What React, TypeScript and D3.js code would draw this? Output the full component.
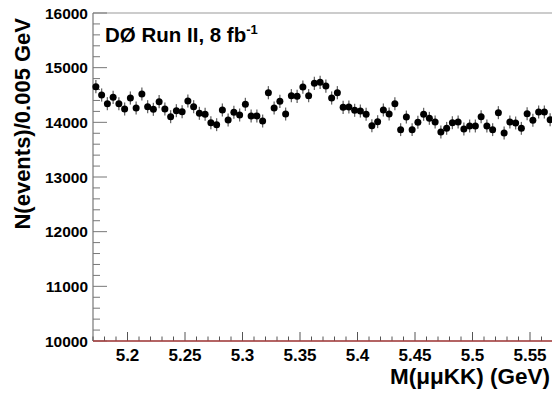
import React from "react";
import * as d3 from "d3";

const binCenters: number[] = d3.range(80).map((i) => 5.1725 + i * 0.005);
const counts: number[] = [
  14652, 14500, 14341, 14457, 14341, 14244, 14445, 14262, 14518, 14286, 14238, 14378, 14244, 14103, 14213, 14195,
  14390, 14286, 14165, 14147, 13993, 13957, 14226, 14043, 14183, 14134, 14329, 14116, 14116, 14024, 14542, 14262,
  14384, 14152, 14488, 14476, 14646, 14488, 14713, 14731, 14664, 14445, 14542, 14274, 14280, 14220, 14207, 14147,
  13938, 14012, 14226, 14152, 14341, 13866, 14097, 13866, 14000, 14147, 14073, 14006, 13823, 13890, 13993, 14006,
  13878, 13933, 13933, 14103, 13933, 13866, 14177, 13805, 14006, 13988, 13890, 14159, 14037, 14189, 14189, 14049,
];
const xMajorTicks: number[] = [5.2, 5.25, 5.3, 5.35, 5.4, 5.45, 5.5, 5.55];
const yMajorTicks: number[] = [10000, 11000, 12000, 13000, 14000, 15000, 16000];
const xTitle = "M(\u03bc\u03bcKK) (GeV)";
const yTitle = "N(events)/0.005 GeV";

const W = 552;
const H = 399;
const L = 93;
const R = 553;
const T = 13;
const B = 341;

export default function App() {
  const x = d3.scaleLinear().domain([5.17, 5.57]).range([L, R]);
  const y = d3.scaleLinear().domain([10000, 16000]).range([B, T]);
  const xMinor = d3.range(5.17, 5.5701, 0.01);
  const yMinor = d3.range(10000, 16001, 200);
  const font = "'Liberation Sans', Arial, Helvetica, sans-serif";
  return (
    <svg width={W} height={H} style={{ position: "absolute", left: 0, top: 0, background: "#fff" }}>
      <rect x={0} y={0} width={W} height={H} fill="#fff" />
      {/* frame */}
      <line x1={L} y1={T} x2={R} y2={T} stroke="#999" strokeWidth={1.2} />
      <line x1={L} y1={T} x2={L} y2={B} stroke="#777" strokeWidth={1.2} />
      <line x1={L} y1={B} x2={R} y2={B} stroke="#333" strokeWidth={1.2} />
      {/* y ticks */}
      {yMinor.map((v) => {
        const major = Math.abs(v % 1000) < 1e-6;
        return <line key={"ym" + v} x1={L} x2={L + (major ? 14 : 7)} y1={y(v)} y2={y(v)} stroke="#777" strokeWidth={1} />;
      })}
      {yMajorTicks.map((v) => (
        <text key={"yl" + v} x={L - 5} y={y(v) + 5.5} textAnchor="end" fontFamily={font} fontWeight="bold" fontSize={15.5} fill="#000">
          {v}
        </text>
      ))}
      {/* x ticks */}
      {xMinor.map((v) => {
        const major = xMajorTicks.some((t) => Math.abs(t - v) < 1e-6);
        return <line key={"xm" + v.toFixed(3)} x1={x(v)} x2={x(v)} y1={B} y2={B - (major ? 9 : 4.5)} stroke="#555" strokeWidth={1} />;
      })}
      {xMajorTicks.map((v) => (
        <text key={"xl" + v} x={x(v)} y={B + 20} textAnchor="middle" fontFamily={font} fontWeight="bold" fontSize={17} fill="#000">
          {String(v)}
        </text>
      ))}
      {/* red curve at baseline */}
      <line x1={L} y1={B} x2={R} y2={B} stroke="#d03030" strokeWidth={1.2} />
      {/* data */}
      {binCenters.map((c, i) => {
        const v = counts[i];
        const e = Math.sqrt(v);
        return (
          <g key={"p" + i}>
            <line x1={x(c)} x2={x(c)} y1={y(v - e)} y2={y(v + e)} stroke="#666" strokeWidth={1.3} />
            <circle cx={x(c)} cy={y(v)} r={3.5} fill="#000" />
          </g>
        );
      })}
      {/* texts */}
      <text x={105} y={42} fontFamily={font} fontWeight="bold" fontSize={20.5} fill="#000">
        DØ Run II, 8 fb<tspan fontSize={13} dy={-8}>-1</tspan>
      </text>
      <text transform={`translate(30,18) rotate(-90)`} textAnchor="end" fontFamily={font} fontWeight="bold" fontSize={22} fill="#000">
        {yTitle}
      </text>
      <text x={550} y={384} textAnchor="end" fontFamily={font} fontWeight="bold" fontSize={22.5} fill="#000">
        {xTitle}
      </text>
    </svg>
  );
}
